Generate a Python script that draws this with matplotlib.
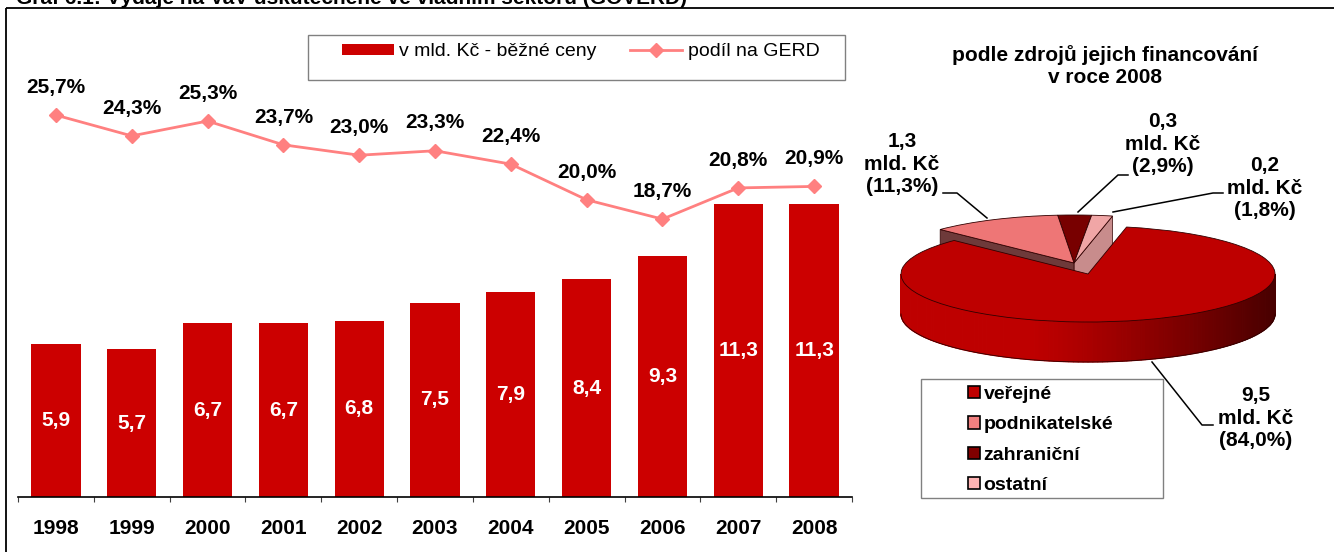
import matplotlib
matplotlib.use('Agg')
import matplotlib.pyplot as plt
import numpy as np
from matplotlib.patches import Rectangle, Wedge, Polygon, Patch

plt.rcParams['font.family'] = ['Liberation Sans', 'DejaVu Sans']

# ---------------- data ----------------
years = ['1998', '1999', '2000', '2001', '2002', '2003', '2004', '2005', '2006', '2007', '2008']
spend_bn = [5.9, 5.7, 6.7, 6.7, 6.8, 7.5, 7.9, 8.4, 9.3, 11.3, 11.3]
gerd_share = [25.7, 24.3, 25.3, 23.7, 23.0, 23.3, 22.4, 20.0, 18.7, 20.8, 20.9]
source_names = ['veřejné', 'podnikatelské', 'zahraniční', 'ostatní']
source_bn = [9.5, 1.3, 0.3, 0.2]
source_pct = [84.0, 11.3, 2.9, 1.8]

series_labels = ['v mld. Kč - běžné ceny', 'podíl na GERD']
pie_title = 'podle zdrojů jejich financování\nv roce 2008'
fig_title = 'Graf 6.1: Výdaje na VaV uskutečněné ve vládním sektoru (GOVERD)'

# ---------------- figure ----------------
W, H = 1334, 552
fig = plt.figure(figsize=(W / 100, H / 100), dpi=100)


def px_axes(x0, y0, x1, y1):
    return [x0 / W, 1 - y1 / H, (x1 - x0) / W, (y1 - y0) / H]


def fmt(v, pct=False):
    s = f'{v:.1f}'.replace('.', ',')
    return s + '%' if pct else s


# overlay axes in pixel coordinates (for frame, title, leader lines)
ax_o = fig.add_axes([0, 0, 1, 1], zorder=10)
ax_o.set_xlim(0, W)
ax_o.set_ylim(H, 0)
ax_o.axis('off')
ax_o.patch.set_visible(False)

# outer frame
ax_o.add_patch(Rectangle((6, 8), W + 50, H + 50, fill=False, edgecolor='black', lw=1.3, clip_on=False))
ax_o.text(16, 3.5, fig_title, fontsize=15, fontweight='bold', va='baseline', ha='left')

# ---------------- bar + line chart ----------------
bar_color = '#CC0000'
line_color = '#FF8080'
ax = fig.add_axes(px_axes(18, 20, 852, 497))
x = np.arange(len(years))
bars = ax.bar(x, spend_bn, width=0.65, color=bar_color, zorder=2)
ax.set_xlim(-0.5, len(years) - 0.5)
ax.set_ylim(0, 477 / 25.93)
for s in ['left', 'right', 'top']:
    ax.spines[s].set_visible(False)
ax.spines['bottom'].set_linewidth(1.2)
ax.set_yticks([])
ax.set_xticks(np.arange(len(years) + 1) - 0.5)
ax.set_xticklabels([])
ax.tick_params(axis='x', which='major', length=3.6, width=0.8, color='#404040', direction='out')
ax.set_xticks(x, minor=True)
ax.set_xticklabels(years, minor=True, fontsize=15, fontweight='bold')
ax.tick_params(axis='x', which='minor', length=0, pad=16)
for xi, v in zip(x, spend_bn):
    ax.text(xi, v / 2, fmt(v), ha='center', va='center', color='white', fontsize=15, fontweight='bold', zorder=3)

ax2 = ax.twinx()
ax2.set_ylim(0, 477 / 14.86)
for s in ax2.spines.values():
    s.set_visible(False)
ax2.set_yticks([])
line, = ax2.plot(x, gerd_share, color=line_color, lw=2, marker='D', markersize=7,
                 markeredgecolor=line_color, zorder=4)
for xi, v in zip(x, gerd_share):
    ax2.annotate(fmt(v, True), (xi, v), xytext=(0, 20), textcoords='offset points',
                 ha='center', va='center', fontsize=15, fontweight='bold')

# legend of bar chart
ax_o.add_patch(Rectangle((308, 35), 537, 45, fill=False, edgecolor='#808080', lw=1))
fig.legend([bars, line], series_labels, ncol=2, frameon=False, loc='center',
           bbox_to_anchor=(580.5 / W, 1 - 52 / H), fontsize=14, handlelength=2.67,
           handleheight=0.51, handletextpad=0.3, columnspacing=1.7)

# ---------------- 3D-looking pie ----------------
a_px, b_px = 187.0, 48.0
cx, cy = 1088.0, 274.0
ax_p = fig.add_axes(px_axes(cx - 1.3 * a_px, cy - 1.8 * b_px, cx + 1.3 * a_px, cy + 2.4 * b_px))
ax_p.set_xlim(-1.3, 1.3)
ax_p.set_ylim(-2.4, 1.8)
ax_p.axis('off')
D = 40 / b_px  # depth in y-data units

top_colors = {'veřejné': '#BE0000', 'podnikatelské': '#EE7676', 'zahraniční': '#780000', 'ostatní': '#F0A6A6'}
wall_colors = {'veřejné': '#A00000', 'podnikatelské': '#6E3A3A', 'zahraniční': '#4A0000', 'ostatní': '#C88C8C'}
legend_colors = {'veřejné': '#C00000', 'podnikatelské': '#F08080', 'zahraniční': '#800000', 'ostatní': '#FFB4B4'}
edge = '#300000'

start = 78.1
order = ['ostatní', 'zahraniční', 'podnikatelské', 'veřejné']
angles = {}
cur = start
for name in order:
    pct = source_pct[source_names.index(name)]
    angles[name] = (cur, cur + pct * 3.6)
    cur += pct * 3.6

small_off = (-14 / a_px, 11 / b_px)
offsets = {'ostatní': small_off, 'zahraniční': small_off, 'podnikatelské': small_off, 'veřejné': (0, 0)}


def P(th, off, r=1.0, z=0.0):
    t = np.deg2rad(th)
    return (off[0] + r * np.cos(t), off[1] + r * np.sin(t) - z)


def draw_slice(name, zbase):
    t1, t2 = angles[name]
    off = offsets[name]
    wc = wall_colors[name]
    # radial walls
    if np.cos(np.deg2rad(t1)) > 0:
        ax_p.add_patch(Polygon([P(0, off, 0), P(t1, off), P(t1, off, z=D), P(0, off, 0, D)],
                               closed=True, facecolor=wc, edgecolor=edge, lw=0.5, zorder=zbase))
    if np.cos(np.deg2rad(t2)) < 0:
        ax_p.add_patch(Polygon([P(0, off, 0), P(t2, off), P(t2, off, z=D), P(0, off, 0, D)],
                               closed=True, facecolor=wc, edgecolor=edge, lw=0.5, zorder=zbase))
    # front rim with shading
    lo, hi = max(t1, 180), min(t2, 360)
    if hi > lo:
        th = np.linspace(lo, hi, 121)
        for i in range(len(th) - 1):
            tm = 0.5 * (th[i] + th[i + 1])
            tt = (np.cos(np.deg2rad(tm)) + 1) / 2
            f = np.clip((tt - 0.35) / 0.65, 0, 1) ** 1.2
            col = ((1 - f) * 190 + f * 72) / 255
            ax_p.add_patch(Polygon([P(th[i], off), P(th[i + 1], off), P(th[i + 1], off, z=D), P(th[i], off, z=D)],
                                   closed=True, facecolor=(col, 0, 0), edgecolor=(col, 0, 0), lw=0.9,
                                   zorder=zbase))
        tb = np.linspace(lo, hi, 200)
        ax_p.plot([P(t, off, z=D)[0] for t in tb], [P(t, off, z=D)[1] for t in tb], color=edge, lw=0.6,
                  zorder=zbase + 0.1)
    # top face
    ax_p.add_patch(Wedge(off, 1.0, t1, t2, facecolor=top_colors[name], edgecolor=edge, lw=0.6,
                         zorder=zbase + 0.2))


for zb, name in enumerate(['zahraniční', 'ostatní', 'podnikatelské', 'veřejné']):
    draw_slice(name, zb + 1)

ax_o.text(1105, 66, pie_title, ha='center', va='center', fontsize=15, fontweight='bold', linespacing=1.15)

# pie data labels with leader lines
label_pos = {'veřejné': (1256, 418), 'podnikatelské': (902, 164), 'zahraniční': (1163, 144), 'ostatní': (1265, 188)}
leaders = {
    'veřejné': [(1213, 425), (1202, 425), (1152, 362)],
    'podnikatelské': [(943, 193), (957, 193), (987, 218)],
    'zahraniční': [(1128, 175), (1118, 175), (1078, 212)],
    'ostatní': [(1223, 193), (1213, 193), (1113, 212)],
}
for name, bn, pct in zip(source_names, source_bn, source_pct):
    tx, ty = label_pos[name]
    ax_o.text(tx, ty, f'{fmt(bn)}\nmld. Kč\n({fmt(pct, True)})', ha='center', va='center',
              fontsize=15, fontweight='bold', linespacing=1.2)
    pts = leaders[name]
    ax_o.plot([p[0] for p in pts], [p[1] for p in pts], color='black', lw=1.1)

# pie legend
ax_o.add_patch(Rectangle((921, 379), 242, 119, fill=False, edgecolor='#808080', lw=1))
handles = [Patch(facecolor=legend_colors[n], edgecolor='black', lw=1.2) for n in source_names]
fig.legend(handles, source_names, loc='upper left', bbox_to_anchor=(968 / W, 1 - 386 / H),
           frameon=False, prop={'weight': 'bold', 'size': 14}, handlelength=0.6,
           handleheight=0.6, handletextpad=0.2, labelspacing=0.68, borderpad=0, borderaxespad=0)

fig.savefig('out.png', dpi=100)
